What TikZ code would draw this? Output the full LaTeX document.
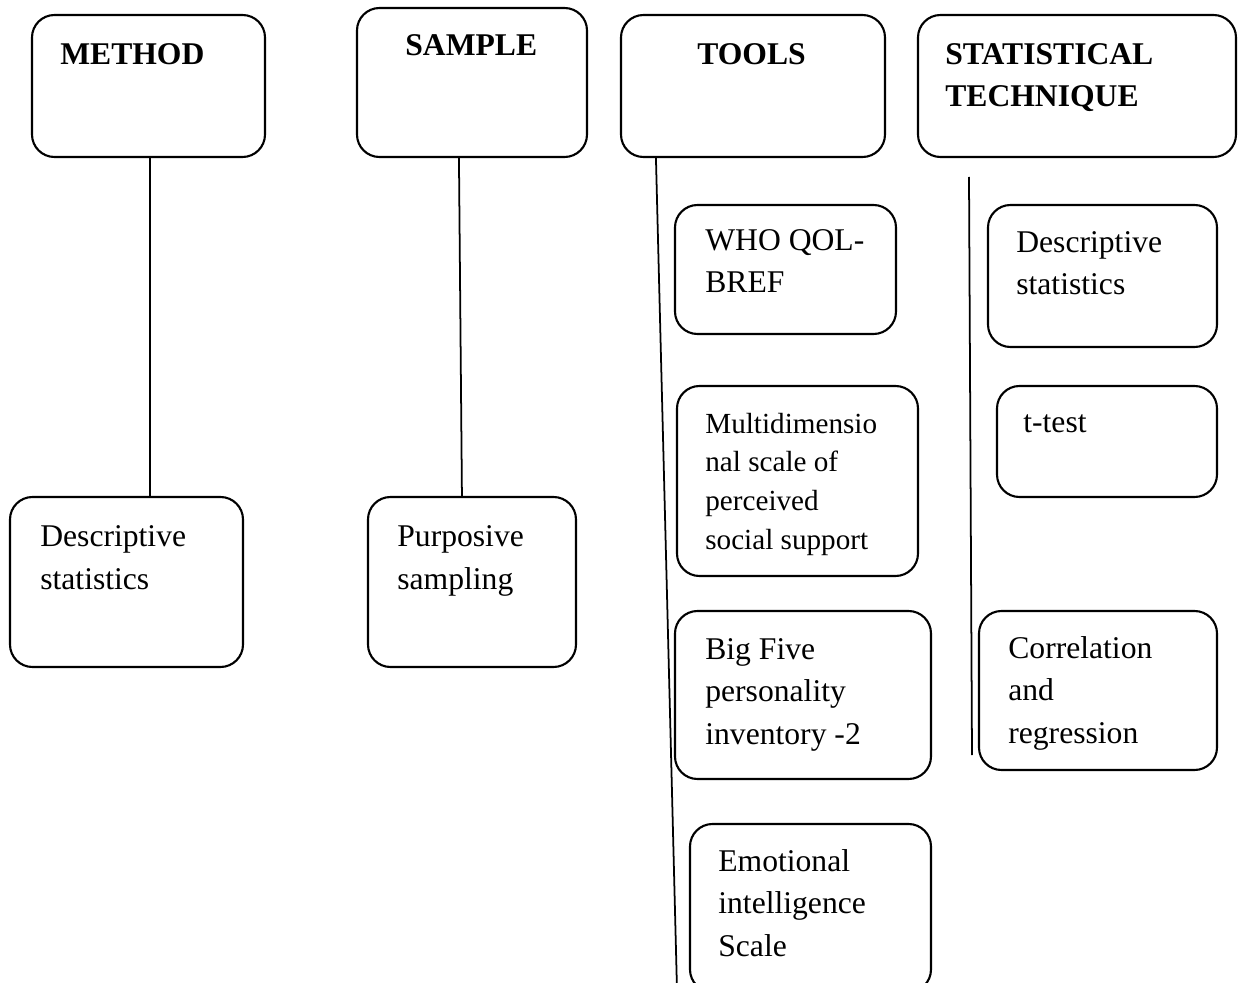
\documentclass[tikz,border=0pt]{standalone}
\usepackage{fontspec}
\setmainfont{Liberation Serif}
\usetikzlibrary{calc,fit}
\definecolor{inkblack}{RGB}{0,0,0}
\tikzset{box/.style={draw=inkblack,line width=1.2pt,rounded corners=0.45cm,inner sep=0pt},
  heading/.style={anchor=base west,inner sep=0pt,align=left,font=\fontsize{18}{24}\selectfont\bfseries},
  entry/.style={anchor=base west,inner sep=0pt,align=left,font=\fontsize{18}{24}\selectfont},
  smallentry/.style={anchor=base west,inner sep=0pt,align=left,font=\fontsize{16.6}{22}\selectfont},
  link/.style={draw=inkblack,line width=1pt}}

\begin{document}
\begin{tikzpicture}[x=0.02cm,y=-0.02cm]
\useasboundingbox (0,0) rectangle (1238,983);

% top row (base anchor = last line)
\node[box,fit={(32,15) (265,157)}] (method) {};
\node[heading] (methodtxt) at (60,65) {METHOD};
\node[box,fit={(357,8) (587,157)}] (sample) {};
\node[heading] (sampletxt) at (405,56) {SAMPLE};
\node[box,fit={(621,15) (885,157)}] (tools) {};
\node[heading] (toolstxt) at (697,65) {TOOLS};
\node[box,fit={(918,15) (1236,157)}] (stat) {};
\node[heading] (stattxt) at (945,107) {STATISTICAL\\TECHNIQUE};

% method and sample
\node[box,fit={(10,497) (243,667)}] (methdesc) {};
\node[entry] (methdesctxt) at (40,589) {Descriptive\\statistics};
\node[box,fit={(368,497) (576,667)}] (purpose) {};
\node[entry] (purposetxt) at (397,589) {Purposive\\sampling};

\draw[link] ($(method.south west)+(119,0)$) -- ($(methdesc.north west)+(141,0)$);
\draw[link] ($(sample.south west)+(103,0)$) -- ($(purpose.north west)+(95,0)$);

% tools
\node[box,fit={(675,205) (896,334)}] (who) {};
\node[entry] (whotxt) at (705,293) {WHO QOL-\\BREF};
\node[box,fit={(677,386) (918,576)}] (mspss) {};
\node[smallentry] (mspsstxt) at (705,549) {Multidimensio\\nal scale of\\perceived\\social support};
\node[box,fit={(675,611) (931,779)}] (bigfive) {};
\node[entry] (bigfivetxt) at (705,744) {Big Five\\personality\\inventory -2};
\node[box,fit={(690,824) (931,992)}] (emotion) {};
\node[entry] (emotiontxt) at (718,956) {Emotional\\intelligence\\Scale};

\coordinate (toolsend) at (677,990);
\draw[link] ($(tools.south west)+(36,0)$) -- (toolsend);

% statistical technique
\node[box,fit={(988,205) (1217,347)}] (statdesc) {};
\node[entry] (statdesctxt) at (1016,295) {Descriptive\\statistics};
\node[box,fit={(997,386) (1217,497)}] (ttest) {};
\node[entry] (ttesttxt) at (1023,432) {t-test};
\node[box,fit={(979,611) (1217,770)}] (corr) {};
\node[entry] (corrtxt) at (1008,743) {Correlation\\and\\regression};

\coordinate (stattop) at (969,177);
\coordinate (statend) at (972,755);
\draw[link] (stattop) -- (statend);

\end{tikzpicture}
\end{document}
